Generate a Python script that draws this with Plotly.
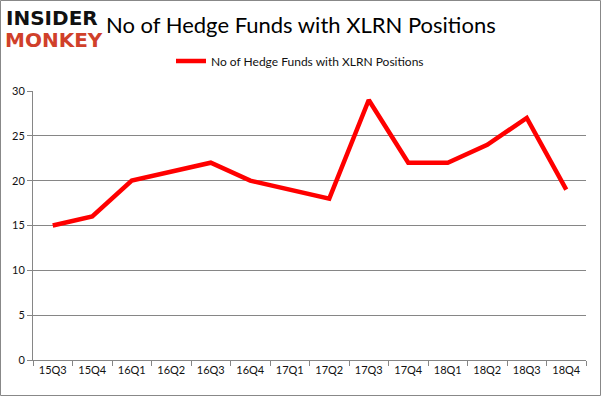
import plotly.graph_objects as go

quarters = ["15Q3", "15Q4", "16Q1", "16Q2", "16Q3", "16Q4", "17Q1", "17Q2",
            "17Q3", "17Q4", "18Q1", "18Q2", "18Q3", "18Q4"]
funds = [15, 16, 20, 21, 22, 20, 19, 18, 29, 22, 22, 24, 27, 19]
series_name = "No of Hedge Funds with XLRN Positions"
title_text = "No of Hedge Funds with XLRN Positions"
y_ticks = [0, 5, 10, 15, 20, 25, 30]

W, H = 601, 396
L, R, T, B = 33, 15, 91, 36
pw, ph = W - L - R, H - T - B

def px_x(p):
    return (p - L) / pw

def px_y(p):
    return (H - B - p) / ph

fig = go.Figure()
fig.add_trace(go.Scatter(
    x=quarters, y=funds, mode="lines", name=series_name,
    line=dict(color="#FF0000", width=4.5),
))

fig.update_layout(
    width=W, height=H,
    margin=dict(l=L, r=R, t=T, b=B, autoexpand=False),
    paper_bgcolor="white", plot_bgcolor="white",
    font=dict(family="Lato, 'Open Sans', sans-serif", size=11, color="#111111"),
    showlegend=True,
    legend=dict(orientation="h", x=px_x(300), xanchor="center", y=px_y(61), yanchor="middle",
                font=dict(size=12, color="#111111"), bgcolor="rgba(0,0,0,0)",
                itemwidth=30),
    xaxis=dict(
        type="category", tickson="boundaries", ticks="outside", ticklen=5,
        tickcolor="#868686", showline=True, linecolor="#868686", linewidth=1,
        showgrid=False, tickfont=dict(size=11, color="#111111"),
        range=[-0.5, len(quarters) - 0.5], fixedrange=True,
    ),
    yaxis=dict(
        range=[0, 30], tickvals=y_ticks, ticks="outside", ticklen=5,
        tickcolor="#868686", showline=True, linecolor="#868686", linewidth=1,
        showgrid=True, gridcolor="#868686", gridwidth=1,
        tickfont=dict(size=11, color="#111111"), zeroline=False,
    ),
    annotations=[
        dict(text=title_text, x=px_x(301), y=px_y(24), xref="paper", yref="paper",
             xanchor="center", yanchor="middle", showarrow=False,
             font=dict(size=22, color="#000000", family="Lato, 'Open Sans', sans-serif")),
        dict(text="<b>INSIDER</b>", x=px_x(4), y=px_y(18), xref="paper", yref="paper",
             xanchor="left", yanchor="middle", showarrow=False,
             font=dict(size=20, color="#111111", family="'DejaVu Sans', sans-serif")),
        dict(text="<b>MONKEY</b>", x=px_x(3), y=px_y(40), xref="paper", yref="paper",
             xanchor="left", yanchor="middle", showarrow=False,
             font=dict(size=20, color="#D0402A", family="'DejaVu Sans', sans-serif")),
    ],
    shapes=[
        dict(type="rect", xref="paper", yref="paper",
             x0=px_x(0.5), x1=px_x(W - 0.5), y0=px_y(0.5), y1=px_y(H - 0.5),
             line=dict(color="#888888", width=1), layer="above"),
    ],
)

fig.write_html("out.html", config={"displayModeBar": False},
               post_script="document.body.style.margin='0';")
